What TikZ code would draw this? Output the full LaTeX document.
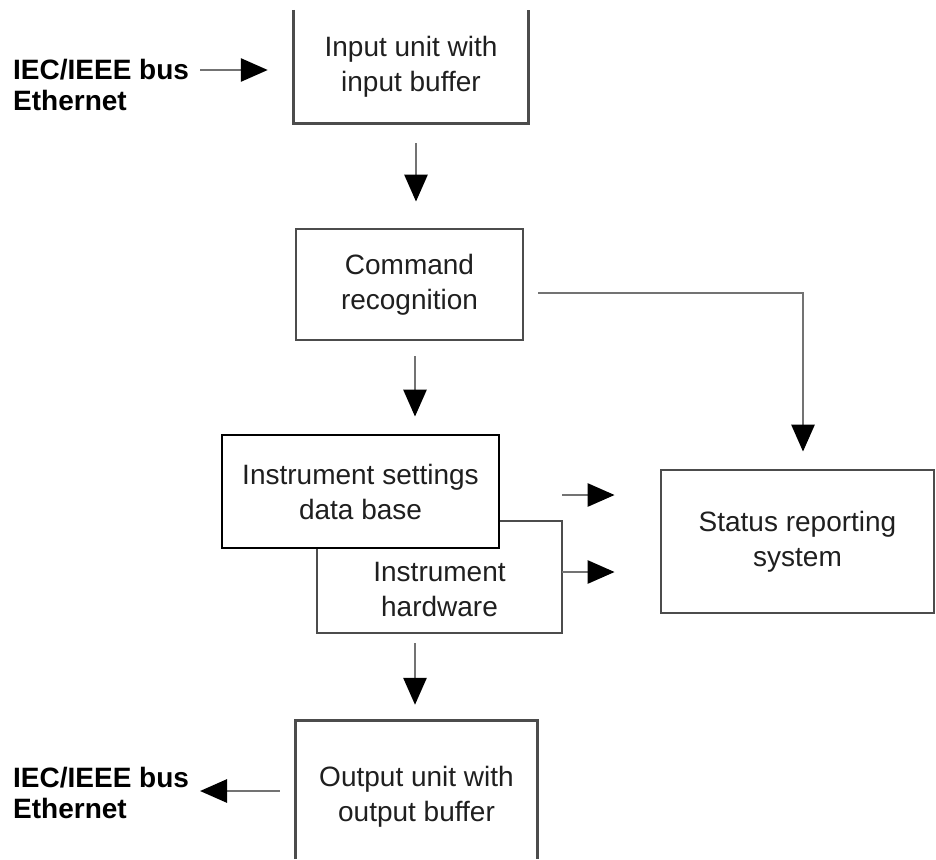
\documentclass[tikz,border=0pt]{standalone}
\usepackage{fontspec}
\setmainfont{Liberation Sans}
\usetikzlibrary{arrows.meta}
\begin{document}
\begin{tikzpicture}[x=1pt,y=-1pt,
  boxline/.style={draw=black!70, line width=2.8pt},
  txt/.style={font=\fontsize{28}{35}\selectfont, text=black!88, align=center, inner sep=0pt},
  lbl/.style={font=\fontsize{28}{31}\selectfont\bfseries, anchor=west, align=left, inner sep=0pt},
  flow/.style={draw=black!55, line width=2.8pt, -{Triangle[length=27pt,width=23pt,color=black]}},
]
\useasboundingbox (0,0) rectangle (936,859);

% boxes
\node[txt, minimum width=234pt, minimum height=113pt] (in) at (411,66.5) {Input unit with\\input buffer};
\draw[boxline] (in.north west) -- (in.south west) -- (in.south east) -- (in.north east);

\node[txt, boxline, minimum width=227pt, minimum height=111pt] (cmd) at (409.5,284.5) {Command\\recognition};

\node[boxline, fill=white, minimum width=245pt, minimum height=112pt, inner sep=0pt] (hw) at (439.5,577) {};
\node[txt] (hwtext) at (439.5,589) {Instrument\\hardware};

\node[txt, draw=black, line width=2.8pt, fill=white, minimum width=277pt, minimum height=113pt] (set) at (360.5,491.5) {Instrument settings\\data base};

\node[txt, boxline, minimum width=273pt, minimum height=143pt] (status) at (797.5,541.5) {Status reporting\\system};

\node[txt, minimum width=241pt, minimum height=152pt] (out) at (416.5,797) {Output unit with\\output buffer};
\draw[boxline] (out.north west |- 0,859) -- (out.north west) -- (out.north east) -- (out.north east |- 0,859);

% side labels
\node[lbl] (busin) at (13,85) {IEC/IEEE bus\\Ethernet};
\node[lbl] (busout) at (13,793) {IEC/IEEE bus\\Ethernet};

% connectors
\coordinate (p1) at (200,70);
\draw[flow, shorten >=26pt] (p1) -- (p1 -| in.west);

\draw[flow, shorten <=20pt, shorten >=26pt] ([xshift=5pt]in.south) -- ([xshift=5pt]in.south |- cmd.north);

\draw[flow, shorten <=15pt, shorten >=17pt] ([xshift=5.5pt]cmd.south) -- ([xshift=5.5pt]cmd.south |- set.north);

\draw[flow, shorten <=14pt, shorten >=17pt] ([yshift=-8.5pt]cmd.east) -| ([xshift=5.5pt]status.north);

\coordinate (s1) at (562,495);
\draw[flow, shorten >=45pt] (s1) -- (s1 -| status.west);
\coordinate (s2) at (562,572);
\draw[flow, shorten >=45pt] (s2) -- (s2 -| status.west);

\draw[flow, shorten <=9pt, shorten >=16pt] ([xshift=-24.5pt]hw.south) -- ([xshift=-24.5pt]hw.south |- out.north);

\coordinate (p2) at (200,791);
\draw[flow, shorten <=16pt] (p2 -| out.west) -- (p2);
\end{tikzpicture}
\end{document}
